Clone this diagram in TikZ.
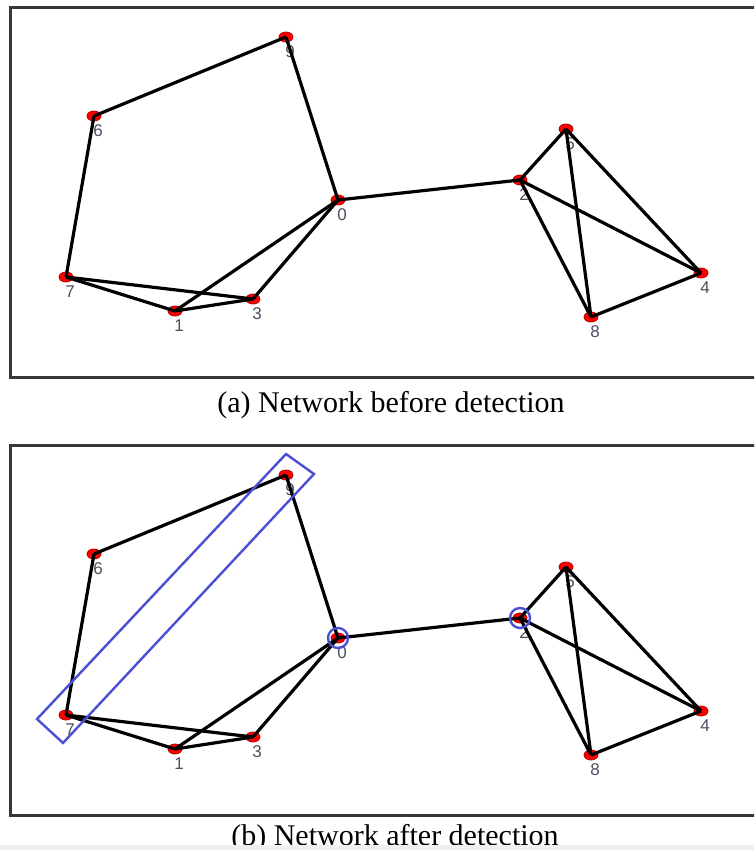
\documentclass[tikz,border=0pt]{standalone}
\usepackage{fontspec}
\setmainfont{Liberation Serif}
\setsansfont{Liberation Sans}
\usetikzlibrary{shapes.geometric}
\definecolor{framec}{RGB}{55,55,55}
\definecolor{labc}{RGB}{75,80,95}
\definecolor{detc}{RGB}{75,80,210}
\definecolor{stripc}{RGB}{240,240,240}
\tikzset{
  vert/.style={ellipse,fill=red,draw=red!70!black,line width=0.8pt,minimum width=14pt,minimum height=10pt,inner sep=0pt},
  vlab/.style={font=\sffamily\fontsize{17}{17}\selectfont,text=labc,inner sep=0pt},
  link/.style={line width=3.2pt,black},
  panelframe/.style={line width=3pt,draw=framec},
  captxt/.style={font=\fontsize{30}{30}\selectfont,anchor=base,inner sep=0pt},
  detmark/.style={line width=2.4pt,draw=detc}
}
\begin{document}
\begin{tikzpicture}[x=1pt,y=-1pt]
\useasboundingbox (0,0) rectangle (754,850);
\clip (0,0) rectangle (754,850);
\fill[white] (0,0) rectangle (754,850);
\foreach \p/\dy in {a/0,b/438}{
  \begin{scope}[yshift=-\dy pt]
    \draw[panelframe] (10.5,7.5) rectangle (770,377.5);
    \foreach \n/\x/\y in {9/286/37,6/94/116,0/338/200,7/66/277,1/175/311,3/253/299,2/520/180,5/566/129,4/701/273,8/591/317}{
      \node[vlab] (\p l\n) at (\x+4,\y+15) {\n};
    }
    \foreach \n/\x/\y in {9/286/37,6/94/116,0/338/200,7/66/277,1/175/311,3/253/299,2/520/180,5/566/129,4/701/273,8/591/317}{
      \node[vert] (\p\n) at (\x,\y) {};
    }
    \foreach \s/\t in {9/6,9/0,6/7,7/1,7/3,1/3,1/0,3/0,0/2,2/5,2/8,2/4,5/8,5/4,8/4}{
      \draw[link] (\p\s.center) -- (\p\t.center);
    }
  \end{scope}
}
% detection marks in panel (b)
\draw[detmark] (286,454) -- (314,474) -- (63,743) -- (37,719) -- cycle;
\draw[detmark] (b0.center) circle (10);
\draw[detmark] (b2.center) circle (10);
% captions
\node[captxt] (capa) at (391,412) {(a) Network before detection};
\node[captxt] (capb) at (395,845) {(b) Network after detection};
\fill[stripc] (0,845) rectangle (754,850);
\end{tikzpicture}
\end{document}
